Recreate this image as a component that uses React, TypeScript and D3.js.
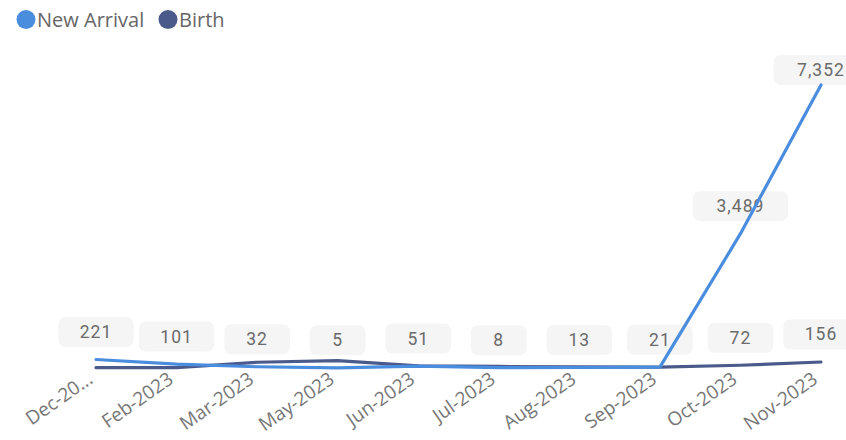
import React from "react";
import * as d3 from "d3";

const months = ["Dec-20...", "Feb-2023", "Mar-2023", "May-2023", "Jun-2023", "Jul-2023", "Aug-2023", "Sep-2023", "Oct-2023", "Nov-2023"];
const newArrival = [221, 101, 32, 5, 51, 8, 13, 21, 3489, 7352];
const birth = [8, 10, 150, 190, 55, 40, 30, 25, 72, 156];
// indices of categories whose labels are shown, per series
const naLabelIdx = [0, 1, 2, 3, 4, 5, 6, 7, 8, 9];
const birthLabelIdx = [8, 9];
const seriesNames = ["New Arrival", "Birth"];
const seriesColors = ["#4a8ddf", "#4a5a8b"];

const W = 846;
const H = 440;

export default function App() {
  const x = d3.scalePoint<string>().domain(months).range([96, 821]);
  const y = d3.scaleLinear().domain([0, 7352]).range([368, 85]);
  const line = d3
    .line<number>()
    .x((_, i) => x(months[i]) as number)
    .y((d) => y(d));

  const labels: { cx: number; py: number; v: number }[] = [];
  naLabelIdx.forEach((i) => labels.push({ cx: x(months[i]) as number, py: y(newArrival[i]), v: newArrival[i] }));
  birthLabelIdx.forEach((i) => labels.push({ cx: x(months[i]) as number, py: y(birth[i]), v: birth[i] }));
  const fmt = d3.format(",");
  const fs = 17.5;
  const charW = 0.56 * fs;

  return (
    <div style={{ position: "absolute", left: 0, top: 0, width: W, height: H, background: "#fff" }}>
      <svg width={W} height={H} style={{ display: "block" }}>
        {/* legend */}
        <g fontFamily="'Open Sans', sans-serif" fontSize={20} fill="#666">
          <circle cx={26} cy={19.5} r={9.5} fill={seriesColors[0]} />
          <text x={37} y={26.5}>{seriesNames[0]}</text>
          <circle cx={168} cy={19.5} r={9.5} fill={seriesColors[1]} />
          <text x={179} y={26.5}>{seriesNames[1]}</text>
        </g>
        {/* data labels */}
        <g fontFamily="Roboto, sans-serif" fontSize={fs} fill="#6b6b6b">
          {labels.map((l, i) => {
            const txt = fmt(l.v);
            const bw = txt.length * charW + 46;
            const bh = 30;
            let top = l.py - 12.5 - bh;
            if (top < 55) top = 55;
            return (
              <g key={i}>
                <rect x={l.cx - bw / 2} y={top} width={bw} height={bh} rx={7} fill="#f5f5f5" />
                <text x={l.cx} y={top + bh / 2 + 6} textAnchor="middle" letterSpacing={1}>
                  {txt}
                </text>
              </g>
            );
          })}
        </g>
        {/* lines */}
        <path d={line(birth) || ""} fill="none" stroke={seriesColors[1]} strokeWidth={3.2} strokeLinecap="round" strokeLinejoin="round" />
        <path d={line(newArrival) || ""} fill="none" stroke={seriesColors[0]} strokeWidth={3.2} strokeLinecap="round" strokeLinejoin="round" />
        {/* x axis labels */}
        <g fontFamily="'Open Sans', sans-serif" fontSize={19} fill="#777">
          {months.map((m) => (
            <text
              key={m}
              textAnchor="end"
              transform={`translate(${(x(m) as number) - 2},${382}) rotate(-35)`}
            >
              {m}
            </text>
          ))}
        </g>
      </svg>
    </div>
  );
}
